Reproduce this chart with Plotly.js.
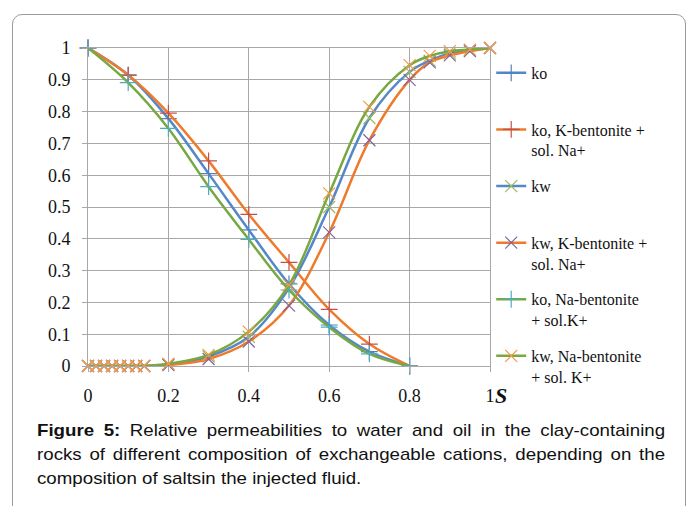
<!DOCTYPE html>
<html>
<head>
<meta charset="utf-8">
<script src="https://cdn.plot.ly/plotly-3.0.1.min.js"></script>
<style>
  html, body { margin:0; padding:0; background:#fff; }
  #wrap { position:relative; width:691px; height:506px; overflow:hidden; }
  #frame { position:absolute; left:12px; top:14px; width:674px; height:520px; border:1px solid #9a9a9a; border-radius:10px; box-sizing:border-box; }
  #chart { position:absolute; left:0; top:0; width:691px; height:506px; }
  #caption { position:absolute; left:37px; top:419px; width:571px; font-family:"Liberation Sans", Arial, sans-serif; font-size:17px; line-height:24px; color:#111; transform:scaleX(1.1); transform-origin:0 0; }
  .jl { text-align:justify; text-align-last:justify; white-space:nowrap; }
  .ll { text-align:left; }
</style>
</head>
<body>
<div id="wrap">
  <div id="frame"></div>
  <div id="chart"></div>
  <div id="caption">
    <div class="jl"><b>Figure 5:</b> Relative permeabilities to water and oil in the clay-containing</div>
    <div class="jl">rocks of different composition of exchangeable cations, depending on the</div>
    <div class="ll">composition of saltsin the injected fluid.</div>
  </div>
</div>
<script>
// Saturation values
const sOil = [0, 0.1, 0.2, 0.3, 0.4, 0.5, 0.6, 0.7, 0.8];
const sWater = [0, 0.02, 0.04, 0.06, 0.08, 0.1, 0.12, 0.14, 0.2, 0.3, 0.4, 0.5, 0.6, 0.7, 0.8, 0.85, 0.9, 0.95, 1];

// Oil relative permeabilities
const ko     = [1, 0.915, 0.778, 0.605, 0.428, 0.258, 0.129, 0.045, 0];
const koK    = [1, 0.915, 0.795, 0.645, 0.477, 0.326, 0.178, 0.069, 0];
const koNa   = [1, 0.891, 0.747, 0.564, 0.398, 0.239, 0.122, 0.038, 0];

// Water relative permeabilities
const kw     = [0, 0, 0, 0, 0, 0, 0, 0, 0.005, 0.03, 0.092, 0.245, 0.50, 0.78, 0.925, 0.96, 0.983, 0.992, 1];
const kwK    = [0, 0, 0, 0, 0, 0, 0, 0, 0.003, 0.022, 0.077, 0.19, 0.42, 0.71, 0.90, 0.955, 0.977, 0.99, 1];
const kwNa   = [0, 0, 0, 0, 0, 0, 0, 0, 0.007, 0.035, 0.108, 0.255, 0.543, 0.815, 0.946, 0.975, 0.99, 0.995, 1];

const seriesNames = ["ko<br> ", "ko, K-bentonite +<br>sol. Na+", "kw<br> ", "kw, K-bentonite +<br>sol. Na+", "ko, Na-bentonite<br>+ sol.K+", "kw, Na-bentonite<br>+ sol. K+"];

const BLUE = "#5588C8", ORANGE = "#EE7B2C", GREEN = "#78A842";
const SERIF = "Times New Roman, Liberation Serif, serif";

function tr(x, y, name, lineColor, sym, mColor, g) {
  return {
    x: x, y: y, name: name, type: "scatter", mode: "lines+markers",
    line: {color: lineColor, width: 2.5, shape: "spline", smoothing: 1},
    marker: {symbol: sym, size: 12, color: mColor, line: {color: mColor, width: 1.2}},
    cliponaxis: false, legendgroup: g
  };
}

const data = [
  tr(sOil, ko, seriesNames[0], BLUE, "cross-thin", "#4F81BD", "a"),
  tr(sOil, koK, seriesNames[1], ORANGE, "cross-thin", "#C0504D", "b"),
  tr(sWater, kw, seriesNames[2], BLUE, "x-thin", "#9BBB59", "c"),
  tr(sWater, kwK, seriesNames[3], ORANGE, "x-thin", "#8064A2", "d"),
  tr(sOil, koNa, seriesNames[4], GREEN, "cross-thin", "#4BACC6", "e"),
  tr(sWater, kwNa, seriesNames[5], GREEN, "x-thin", "#F79646", "f")
];

const GRID = "#A8A8A8";
const layout = {
  width: 691, height: 506,
  margin: {l: 88, r: 201, t: 48, b: 140},
  paper_bgcolor: "rgba(0,0,0,0)", plot_bgcolor: "#fff",
  showlegend: true,
  legend: {x: 1.003, xanchor: "left", y: 0.975, yanchor: "top", valign: "top",
           font: {family: SERIF, size: 16, color: "#111"}, maxheight: 480,
           tracegroupgap: 12, bgcolor: "rgba(0,0,0,0)"},
  xaxis: {range: [0, 1], dtick: 0.2, tick0: 0, showgrid: true, gridcolor: GRID, gridwidth: 1,
          zeroline: false, showline: true, linecolor: GRID, mirror: true,
          ticks: "outside", ticklen: 5, tickcolor: GRID, ticklabelstandoff: 8,
          tickfont: {family: SERIF, size: 18, color: "#111"}},
  yaxis: {range: [0, 1], dtick: 0.1, tick0: 0, showgrid: true, gridcolor: GRID, gridwidth: 1,
          zeroline: false, showline: true, linecolor: GRID, mirror: true,
          ticks: "outside", ticklen: 5, tickcolor: GRID, ticklabelstandoff: 8,
          tickfont: {family: SERIF, size: 18, color: "#111"}},
  annotations: [{
    text: "<b><i>S</i></b>", xref: "paper", yref: "paper", x: 1.027, y: -0.094,
    xanchor: "center", yanchor: "middle", showarrow: false,
    font: {family: SERIF, size: 22, color: "#111"}
  }]
};

Plotly.newPlot("chart", data, layout, {displayModeBar: false, staticPlot: true});
</script>
</body>
</html>
